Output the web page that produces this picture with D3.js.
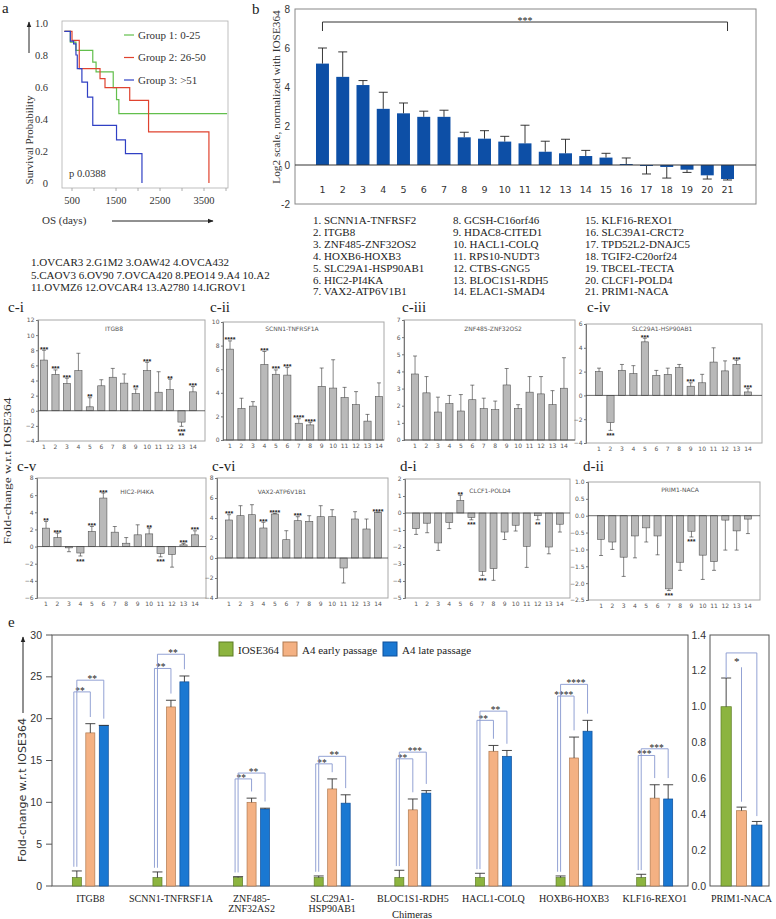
<!DOCTYPE html>
<html><head><meta charset="utf-8">
<script src="https://cdn.jsdelivr.net/npm/d3@7/dist/d3.min.js"></script>
<style>html,body{margin:0;padding:0;background:#fff}svg{display:block}</style>
</head><body>
<svg id="fig" width="776" height="919" xmlns="http://www.w3.org/2000/svg"></svg>
<script>
// ================= DATA =================
// Panel a : Kaplan-Meier
const kmGroupNames = ["Group 1: 0-25", "Group 2: 26-50", "Group 3: >51"];
const kmDays1 = [327, 462, 590, 972, 1047, 1437, 1512, 1565, 4025];
const kmSurv1 = [0.948, 0.881, 0.829, 0.756, 0.694, 0.596, 0.521, 0.433, 0.433];
const kmDays2 = [327, 500, 665, 1137, 1250, 1812, 2240, 3612];
const kmSurv2 = [0.948, 0.892, 0.715, 0.652, 0.596, 0.517, 0.319, 0];
const kmDays3 = [327, 462, 537, 590, 620, 725, 852, 972, 1512, 1715, 2090];
const kmSurv3 = [0.948, 0.887, 0.87, 0.8, 0.715, 0.631, 0.537, 0.36, 0.27, 0.183, 0];
const kmXTicks = [500, 1500, 2500, 3500];
const kmYTicks = [0, 0.2, 0.4, 0.6, 0.8, 1.0];
const kmPText = "p 0.0388";

// Panel b
const bCats = ["1","2","3","4","5","6","7","8","9","10","11","12","13","14","15","16","17","18","19","20","21"];
const bValues = [5.2, 4.52, 4.1, 2.88, 2.65, 2.47, 2.47, 1.42, 1.35, 1.2, 1.11, 0.68, 0.6, 0.46, 0.38, 0.05, -0.05, -0.1, -0.24, -0.53, -0.72];
const bErrEnd = [6.0, 5.8, 4.33, 3.73, 3.18, 2.76, 2.81, 1.68, 1.76, 1.47, 2.04, 1.22, 1.32, 0.75, 0.6, 0.36, -0.46, -0.67, -0.38, -0.72, -0.77];
const bYTicks = [-2, 0, 2, 4, 6, 8];
const bSig = "***";
const bChimeras = ["SCNN1A-TNFRSF2","ITGB8","ZNF485-ZNF32OS2","HOXB6-HOXB3","SLC29A1-HSP90AB1","HIC2-PI4KA","VAX2-ATP6V1B1",
  "GCSH-C16orf46","HDAC8-CITED1","HACL1-COLQ","RPS10-NUDT3","CTBS-GNG5","BLOC1S1-RDH5","ELAC1-SMAD4",
  "KLF16-REXO1","SLC39A1-CRCT2","TPD52L2-DNAJC5","TGIF2-C20orf24","TBCEL-TECTA","CLCF1-POLD4","PRIM1-NACA"];

// Cell lines
const cellLines = ["OVCAR3","G1M2","OAW42","OVCA432","CAOV3","OV90","OVCA420","PEO14","A4","A2","OVMZ6","OVCAR4","A2780","IGROV1"];
const cellLineRowSizes = [4, 6, 4];

// Panels c / d (14 cell lines each)
const cdCats = ["1","2","3","4","5","6","7","8","9","10","11","12","13","14"];
const cdLabels = ["c-i","c-ii","c-iii","c-iv","c-v","c-vi","d-i","d-ii"];
const cdTitles = ["ITGB8","SCNN1-TNFRSF1A","ZNF485-ZNF32OS2","SLC29A1-HSP90AB1","HIC2-PI4KA","VAX2-ATP6V1B1","CLCF1-POLD4","PRIM1-NACA"];

const ciVals = [6.7, 4.8, 3.6, 5.3, 0.52, 3.3, 4.43, 3.65, 2.28, 5.3, 2.45, 2.8, -1.5, 2.5];
const ciErr  = [8.0, 5.4, 4.3, 7.6, 1.72, 4.1, 5.6, 4.86, 2.88, 6.4, 5.16, 4.17, -2.06, 3.2];
const ciStars = ["***","***","***","","**","","","","**","***","","**","***\n**","***"];
const ciTicks = [-4,-2,0,2,4,6,8,10,12];

const ciiVals = [7.7, 2.67, 2.87, 6.4, 5.57, 5.5, 1.42, 1.28, 4.55, 4.4, 3.6, 3.0, 1.6, 3.68];
const ciiErr  = [8.4, 3.54, 3.25, 7.5, 5.94, 6.14, 1.8, 1.5, 6.1, 6.8, 4.46, 4.1, 2.17, 4.84];
const ciiStars = ["****","","","***","***","***","****","****","","","","","",""];
const ciiTicks = [0,2,4,6,8,10];

const ciiiVals = [3.85, 2.75, 1.63, 2.12, 1.69, 2.35, 1.83, 1.77, 3.21, 1.83, 2.79, 2.69, 2.06, 3.02];
const ciiiErr  = [4.9, 3.7, 2.5, 2.6, 2.65, 3.2, 2.44, 2.27, 4.17, 2.06, 3.7, 3.7, 2.88, 4.8];
const ciiiStars = ["","","","","","","","","","","","","",""];
const ciiiTicks = [0,1,2,3,4,5,6,7];

const civVals = [2.0, -2.29, 2.11, 1.83, 4.5, 1.69, 1.77, 2.34, 0.77, 1.06, 2.8, 2.06, 2.6, 0.29];
const civErr  = [2.29, -2.94, 2.6, 2.5, 4.8, 2.1, 2.29, 2.6, 1.06, 1.77, 4.0, 2.9, 2.95, 0.57];
const civStars = ["","***","","","***","","","","***","","","","***","***"];
const civTicks = [-4,-2,0,2,4,6];

const cvVals = [2.15, 1.05, -0.15, -0.75, 1.76, 5.66, 1.68, 0.39, 1.37, 1.48, -0.8, -0.92, 0.2, 1.37];
const cvErr  = [2.93, 1.56, -0.6, -1.1, 2.34, 6.25, 2.34, 1.05, 2.54, 2.15, -1.2, -2.4, 0.35, 1.84];
const cvStars = ["**","***","","***","***","***","","","","**","***","","***","***"];
const cvTicks = [-6,-4,-2,0,2,4,6,8];

const cviVals = [3.8, 4.23, 4.33, 3.0, 4.4, 1.83, 3.73, 3.67, 4.13, 4.13, -1.0, 3.9, 2.9, 4.57];
const cviErr  = [4.33, 5.23, 5.33, 3.57, 4.45, 2.73, 4.13, 4.23, 5.23, 4.83, -2.5, 4.63, 3.9, 4.6];
const cviStars = ["***","","","***","****","","***","","","","","","","****"];
const cviTicks = [-4,-2,0,2,4,6,8];

const diVals = [-0.92, -0.6, -1.76, -0.56, 0.74, -0.26, -3.43, -3.27, -1.12, -0.72, -1.96, -0.16, -2.0, -0.66];
const diErr  = [-1.26, -1.16, -2.2, -0.92, 1.04, -0.4, -3.67, -3.96, -1.56, -1.06, -3.2, -0.4, -2.4, -1.12];
const diStars = ["","","","","**","***","***","","","","","**","",""];
const diTicks = [-5,-4,-3,-2,-1,0,1,2];

const diiVals = [-0.7, -0.78, -1.23, -0.6, -0.36, -0.6, -2.17, -1.38, -0.46, -1.17, -1.36, -0.13, -0.45, -0.1];
const diiErr  = [-1.18, -1.0, -1.8, -1.25, -0.78, -1.16, -2.22, -1.62, -0.63, -1.89, -1.62, -1.02, -1.02, -0.53];
const diiStars = ["","","","","","","***","","***","","","","",""];
const diiTicks = [-2.5,-2.0,-1.5,-1.0,-0.5,0.0,0.5,1.0];

// Panel e
const eCats = ["ITGB8","SCNN1-TNFRSF1A","ZNF485-ZNF32AS2","SLC29A1-HSP90AB1","BLOC1S1-RDH5","HACL1-COLQ","HOXB6-HOXB3","KLF16-REXO1"];
const eLabelLines = [["ITGB8"],["SCNN1-TNFRSF1A"],["ZNF485-","ZNF32AS2"],["SLC29A1-","HSP90AB1"],["BLOC1S1-RDH5"],["HACL1-COLQ"],["HOXB6-HOXB3"],["KLF16-REXO1"]];
const eSeries = ["IOSE364","A4 early passage","A4 late passage"];
const eIOSE    = [1, 1, 1, 1, 1, 1, 1, 1];
const eIOSEErr = [1.8, 1.68, 1.12, 1.2, 1.88, 1.52, 1.2, 1.4];
const eEarly    = [18.3, 21.4, 10.0, 11.6, 9.1, 16.1, 15.3, 10.5];
const eEarlyErr = [19.4, 22.2, 10.5, 12.8, 10.4, 16.8, 17.8, 12.1];
const eLate    = [19.2, 24.4, 9.2, 9.9, 11.1, 15.5, 18.5, 10.4];
const eLateErr = [19.2, 25.1, 9.3, 10.9, 11.4, 16.2, 19.8, 12.1];
const eSigEarly  = ["**","**","**","**","**","**","****","***"];
const eSigLate   = ["**","**","**","**","***","**","****","***"];
const eSigEarlyY = [23.2, 26.0, 12.8, 14.6, 15.2, 19.8, 22.7, 15.6];
const eSigLateY  = [24.6, 27.7, 13.5, 15.5, 16.0, 20.9, 24.1, 16.4];
const eYTicks = [0, 5, 10, 15, 20, 25, 30];
const eXTitle = "Chimeras";
const eYTitle = "Fold-change w.r.t IOSE364";
// PRIM1-NACA inset
const pCats = ["PRIM1-NACA"];
const pValues = [1.0, 0.42, 0.34];
const pErr = [1.16, 0.44, 0.36];
const pSig = "*";
const pSigY = 1.3;
const pSigInnerY = 1.22;
const pYTicks = [0, 0.2, 0.4, 0.6, 0.8, 1.0, 1.2, 1.4];

// ================= DRAW =================
const svg = d3.select("#fig");
const SERIF = "'Liberation Serif','Times New Roman',serif";
const SANS = "'DejaVu Sans',Verdana,sans-serif";
const ARIAL = "'Liberation Sans',Arial,sans-serif";
function T(g, x, y, s, o = {}) {
  const t = g.append("text").attr("x", x).attr("y", y).text(s)
    .attr("font-family", o.ff || SERIF).attr("font-size", o.fs || 11)
    .attr("fill", o.fill || "#222");
  if (o.anchor) t.attr("text-anchor", o.anchor);
  if (o.weight) t.attr("font-weight", o.weight);
  if (o.rot) t.attr("transform", `rotate(${o.rot},${x},${y})`);
  if (o.len) t.attr("textLength", o.len).attr("lengthAdjust", "spacingAndGlyphs");
  return t;
}
function L(g, x1, y1, x2, y2, stroke, w) {
  return g.append("line").attr("x1", x1).attr("y1", y1).attr("x2", x2).attr("y2", y2)
    .attr("stroke", stroke || "#333").attr("stroke-width", w || 1);
}
const defs = svg.append("defs");
defs.append("marker").attr("id", "arr").attr("viewBox", "0 0 10 10").attr("refX", 9).attr("refY", 5)
  .attr("markerWidth", 6).attr("markerHeight", 6).attr("orient", "auto")
  .append("path").attr("d", "M0,1 L10,5 L0,9 z").attr("fill", "#222");

// ---------- Panel a ----------
{
  const g = svg.append("g");
  const x = d3.scaleLinear().domain([500, 3500]).range([72, 204]);
  const y = d3.scaleLinear().domain([0, 1]).range([183, 23]);
  g.append("rect").attr("x", 62).attr("y", 21).attr("width", 166).attr("height", 167)
    .attr("fill", "none").attr("stroke", "#b0b0b0").attr("stroke-width", 0.8);
  d3.range(500, 4001, 500).forEach(v => L(g, x(v), 188, x(v), 191, "#999", 0.8));
  kmYTicks.forEach(v => T(g, 48, y(v) + 4, v === 0 ? "0" : v.toFixed(1), {fs: 10.5, anchor: "end", fill: "#333"}));
  kmXTicks.forEach(v => T(g, x(v), 204, String(v), {fs: 10.5, anchor: "middle", fill: "#333"}));
  const line = d3.line().x(d => x(d[0])).y(d => y(d[1])).curve(d3.curveStepAfter);
  const series = [[kmDays1, kmSurv1], [kmDays2, kmSurv2], [kmDays3, kmSurv3]];
  const cols = ["#62bf4c", "#e0432f", "#3040c4"];
  series.forEach(([d, s], i) => g.append("path").attr("d", line(d.map((t, j) => [t, s[j]])))
    .attr("fill", "none").attr("stroke", cols[i]).attr("stroke-width", 1.2));
  kmGroupNames.forEach((n, i) => {
    const ly = 35 + i * 22.5;
    L(g, 124, ly, 134, ly, cols[i], 1.2);
    T(g, 138, ly + 3.5, n, {fs: 11, fill: "#333"});
  });
  T(g, 69, 177, kmPText, {fs: 10.5, fill: "#333"});
  T(g, 33, 140, "Survival Probability", {fs: 11, anchor: "middle", rot: -90, fill: "#333"});
  L(g, 29, 53, 29, 22, "#222", 1).attr("marker-end", "url(#arr)");
  T(g, 42, 224, "OS (days)", {fs: 11, fill: "#333"});
  L(g, 112, 221, 213, 221, "#222", 1).attr("marker-end", "url(#arr)");
  T(svg, 2, 13, "a", {fs: 15});
  T(svg, 252, 14, "b", {fs: 15});
}

// ---------- Panel b ----------
{
  const g = svg.append("g");
  const x = d3.scaleBand().domain(bCats).range([316, 734]).paddingInner(0.36);
  const y = d3.scaleLinear().domain([-2, 8]).range([204, 9]);
  const bw = x.bandwidth();
  g.append("rect").attr("x", 295).attr("y", 9).attr("width", 461).attr("height", 195)
    .attr("fill", "none").attr("stroke", "#888").attr("stroke-width", 1);
  bYTicks.forEach(v => T(g, 290, y(v) + 3.5, String(v), {ff: ARIAL, fs: 10, anchor: "end", fill: "#333"}));
  g.selectAll(null).data(bValues).join("rect")
    .attr("x", (d, i) => x(bCats[i])).attr("width", bw)
    .attr("y", d => y(Math.max(0, d))).attr("height", d => Math.abs(y(d) - y(0)))
    .attr("fill", "#0d4fa6");
  L(g, 295, y(0), 756, y(0), "#333", 1);
  bValues.forEach((v, i) => {
    const cx = x(bCats[i]) + bw / 2, e = bErrEnd[i];
    L(g, cx, y(v), cx, y(e), "#222", 0.9);
    L(g, cx - 4.5, y(e), cx + 4.5, y(e), "#222", 0.9);
    T(g, cx, 193, bCats[i], {ff: SANS, fs: 9.5, anchor: "middle", fill: "#333"});
  });
  const xl = x(bCats[0]) + bw / 2, xr = x(bCats[bCats.length - 1]) + bw / 2;
  g.append("path").attr("d", `M${xl},31V22H${xr}V31`).attr("fill", "none").attr("stroke", "#333").attr("stroke-width", 1);
  T(g, (xl + xr) / 2, 24, bSig, {fs: 10, anchor: "middle"});
  T(g, 280, 97, "Log2 scale, normalized with IOSE364", {fs: 11.3, anchor: "middle", rot: -90, fill: "#333"});
  const colX = [313, 453, 585];
  bChimeras.forEach((n, i) => {
    const c = Math.floor(i / 7), r = i % 7;
    T(g, colX[c], 224 + r * 11.9, `${i + 1}. ${n}`, {fs: 11, fill: "#222"});
  });
}

// ---------- Cell lines ----------
{
  let k = 0;
  cellLineRowSizes.forEach((n, r) => {
    const parts = [];
    for (let j = 0; j < n; j++, k++) parts.push(`${k + 1}.${cellLines[k]}`);
    T(svg, 31, 266 + r * 12.5, parts.join(" "), {fs: 11, fill: "#222"});
  });
}

// ---------- Panels c / d ----------
const cdLayout = [
  {x0: 38, x1: 205, y0: 320, y1: 441, b0: 46, b1: 191, tx: 114, ty: 331, lx: 8, ly: 312, domain: [-4, 12]},
  {x0: 223, x1: 384, y0: 322, y1: 440, b0: 232, b1: 377, tx: 292, ty: 331, lx: 210, ly: 312, domain: [0, 10]},
  {x0: 404, x1: 575, y0: 320, y1: 440, b0: 417, b1: 562, tx: 493, ty: 331, lx: 402, ly: 312, domain: [0, 7]},
  {x0: 586, x1: 762, y0: 324, y1: 443, b0: 601, b1: 746, tx: 662, ty: 331, lx: 587, ly: 312, domain: [-4, 6]},
  {x0: 37, x1: 206, y0: 478, y1: 598, b0: 48, b1: 193, tx: 137, ty: 494, lx: 17, ly: 471, domain: [-6, 8]},
  {x0: 217, x1: 388, y0: 478, y1: 598, b0: 231, b1: 376, tx: 282, ty: 494, lx: 212, ly: 471, domain: [-4, 8]},
  {x0: 405, x1: 570, y0: 479, y1: 598, b0: 418, b1: 558, tx: 490, ty: 493, lx: 400, ly: 471, domain: [-5, 2]},
  {x0: 588, x1: 760, y0: 482, y1: 600, b0: 603, b1: 746, tx: 680, ty: 492, lx: 583, ly: 471, domain: [-2.5, 1.0]}
];
const cdData = [
  [ciVals, ciErr, ciStars, ciTicks], [ciiVals, ciiErr, ciiStars, ciiTicks],
  [ciiiVals, ciiiErr, ciiiStars, ciiiTicks], [civVals, civErr, civStars, civTicks],
  [cvVals, cvErr, cvStars, cvTicks], [cviVals, cviErr, cviStars, cviTicks],
  [diVals, diErr, diStars, diTicks], [diiVals, diiErr, diiStars, diiTicks]
];
cdLayout.forEach((p, pi) => {
  const [vals, errs, stars, ticks] = cdData[pi];
  const g = svg.append("g");
  const y = d3.scaleLinear().domain(p.domain).range([p.y1, p.y0]);
  const step = (p.b1 - p.b0) / (cdCats.length - 1);
  const x = d3.scaleBand().domain(cdCats).range([p.b0 - step / 2, p.b1 + step / 2]).paddingInner(0.37);
  const bw = x.bandwidth();
  g.append("rect").attr("x", p.x0).attr("y", p.y0).attr("width", p.x1 - p.x0).attr("height", p.y1 - p.y0)
    .attr("fill", "none").attr("stroke", "#a8a8a8").attr("stroke-width", 1);
  const fmt = pi === 7 ? d3.format(".1f") : d3.format("d");
  const ax = g.append("g").attr("transform", `translate(${p.x0},0)`)
    .call(d3.axisLeft(y).tickValues(ticks).tickSize(2).tickPadding(1.5).tickFormat(fmt));
  ax.select(".domain").attr("stroke", "#777");
  ax.selectAll(".tick line").attr("stroke", "#777");
  ax.selectAll("text").attr("font-family", SANS).attr("font-size", 6).attr("fill", "#555");
  g.selectAll(null).data(vals).join("rect")
    .attr("x", (d, i) => x(cdCats[i])).attr("width", bw)
    .attr("y", d => y(Math.max(0, d))).attr("height", d => Math.abs(y(d) - y(0)))
    .attr("fill", "#b9b9b9").attr("stroke", "#555").attr("stroke-width", 0.6);
  L(g, p.x0, y(0), p.x1, y(0), "#444", 0.8);
  vals.forEach((v, i) => {
    const cx = x(cdCats[i]) + bw / 2, e = errs[i];
    L(g, cx, y(v), cx, y(e), "#333", 0.6);
    L(g, cx - 2, y(e), cx + 2, y(e), "#333", 0.6);
    if (stars[i]) {
      stars[i].split("\n").forEach((s, k) => {
        const yy = v >= 0 ? y(e) + 1.5 - k * 4 : y(e) + 7.5 + k * 4.5;
        T(g, cx, yy, s, {ff: ARIAL, fs: 7, weight: "bold", anchor: "middle", fill: "#222"});
      });
    }
    T(g, cx, p.y1 + 7.5, cdCats[i], {ff: SANS, fs: 6, anchor: "middle", fill: "#555"});
  });
  T(g, p.tx, p.ty, cdTitles[pi], {ff: SANS, fs: 6, anchor: "middle", fill: "#555"});
  T(svg, p.lx, p.ly, cdLabels[pi], {fs: 15, fill: "#222"});
});
T(svg, 11, 471, "Fold-change w.r.t IOSE364", {fs: 10, anchor: "middle", rot: -90, fill: "#333", len: 147});

// ---------- Panel e ----------
{
  const g = svg.append("g");
  const eColors = ["#8cb43f", "#f4b183", "#1a78d2"];
  const eStrokes = ["#5d7d25", "#b07a50", "#0d4f9a"];
  const sigCol = "#8797cf";
  const y = d3.scaleLinear().domain([0, 30]).range([886, 635]);
  const x0 = d3.scaleBand().domain(eCats).range([50, 695]);
  const x1 = d3.scaleBand().domain(eSeries).range([-18, 18]).paddingInner(0.33);
  const bw = x1.bandwidth();
  g.append("rect").attr("x", 52).attr("y", 635).attr("width", 636).attr("height", 251)
    .attr("fill", "none").attr("stroke", "#555").attr("stroke-width", 1);
  eYTicks.forEach(v => {
    L(g, 46, y(v), 52, y(v), "#555", 1);
    T(g, 42, y(v) + 3.5, String(v), {ff: ARIAL, fs: 10.5, anchor: "end", fill: "#333"});
  });
  const vals = [eIOSE, eEarly, eLate], errs = [eIOSEErr, eEarlyErr, eLateErr];
  eCats.forEach((c, i) => {
    const cx = x0(c) + x0.bandwidth() / 2;
    eSeries.forEach((s, si) => {
      const bx = cx + x1(s);
      const v = vals[si][i], e = errs[si][i];
      g.append("rect").attr("x", bx).attr("width", bw).attr("y", y(v)).attr("height", y(0) - y(v))
        .attr("fill", eColors[si]).attr("stroke", eStrokes[si]).attr("stroke-width", 0.7);
      L(g, bx + bw / 2, y(v), bx + bw / 2, y(e), "#333", 0.9);
      L(g, bx + bw / 2 - 5, y(e), bx + bw / 2 + 5, y(e), "#333", 0.9);
    });
    const gx = cx + x1(eSeries[0]) + bw / 2;
    [[1, eSigEarly, eSigEarlyY, -3, -2], [2, eSigLate, eSigLateY, 0, 2]].forEach(([si, sig, sy, off, sx]) => {
      const tx = cx + x1(eSeries[si]) + bw / 2;
      const lx = gx + off, yb = y(sy[i]);
      const yl = y(eIOSEErr[i] + 0.5), yr = y(errs[si][i] + 0.8);
      g.append("path").attr("d", `M${lx},${yl}V${yb}H${tx}V${yr}`).attr("fill", "none")
        .attr("stroke", sigCol).attr("stroke-width", 0.9);
      T(g, (lx + tx) / 2 + sx, yb + 2, sig[i], {fs: 9.5, anchor: "middle", fill: "#222"});
    });
    eLabelLines[i].forEach((ln, k) => T(g, cx, 901.5 + k * 10, ln, {fs: 10, anchor: "middle", fill: "#222"}));
  });
  T(g, 412, 918, eXTitle, {fs: 10.5, anchor: "middle", fill: "#222"});
  T(g, 26, 790, eYTitle, {ff: SANS, fs: 10, anchor: "middle", rot: -90, fill: "#333", len: 144});
  L(g, 23, 713, 23, 637, "#222", 1).attr("marker-end", "url(#arr)");
  const legX = [219, 283, 383];
  eSeries.forEach((s, si) => {
    g.append("rect").attr("x", legX[si]).attr("y", 642).attr("width", 14).attr("height", 14)
      .attr("fill", eColors[si]).attr("stroke", eStrokes[si]).attr("stroke-width", 1);
    T(g, legX[si] + 19, 654, s, {fs: 11, fill: "#222"});
  });
  // inset PRIM1-NACA
  const py = d3.scaleLinear().domain([0, 1.4]).range([886, 635]);
  const px0 = d3.scaleBand().domain(pCats).range([712, 771]);
  const px1 = d3.scaleBand().domain(eSeries).range([-20.5, 20.5]).paddingInner(0.33);
  const pbw = px1.bandwidth();
  g.append("rect").attr("x", 710).attr("y", 635).attr("width", 59).attr("height", 251)
    .attr("fill", "none").attr("stroke", "#555").attr("stroke-width", 1);
  pYTicks.forEach(v => T(g, 706, py(v) + 3.5, v.toFixed(1), {ff: ARIAL, fs: 10.5, anchor: "end", fill: "#333"}));
  const pcx = px0(pCats[0]) + px0.bandwidth() / 2;
  const pc = eSeries.map(s => pcx + px1(s) + pbw / 2);
  eSeries.forEach((s, si) => {
    const bx = pcx + px1(s);
    g.append("rect").attr("x", bx).attr("width", pbw).attr("y", py(pValues[si])).attr("height", py(0) - py(pValues[si]))
      .attr("fill", eColors[si]).attr("stroke", eStrokes[si]).attr("stroke-width", 0.7);
    L(g, pc[si], py(pValues[si]), pc[si], py(pErr[si]), "#333", 0.9);
    L(g, pc[si] - 5, py(pErr[si]), pc[si] + 5, py(pErr[si]), "#333", 0.9);
  });
  g.append("path").attr("d", `M${pc[0]},${py(pErr[0])}V${py(pSigY)}H${pc[2]}V${py(pErr[2] + 0.03)}`)
    .attr("fill", "none").attr("stroke", sigCol).attr("stroke-width", 0.9);
  L(g, pc[1], py(pSigInnerY), pc[1], py(pErr[1] + 0.03), sigCol, 0.9);
  T(g, (pc[0] + pc[1]) / 2 + 3, py(pSigY) + 12, pSig, {fs: 11, anchor: "middle", fill: "#222"});
  T(g, pcx, 901.5, pCats[0], {fs: 10, anchor: "middle", fill: "#222"});
  T(svg, 8, 627, "e", {fs: 15});
}
</script>
</body></html>
